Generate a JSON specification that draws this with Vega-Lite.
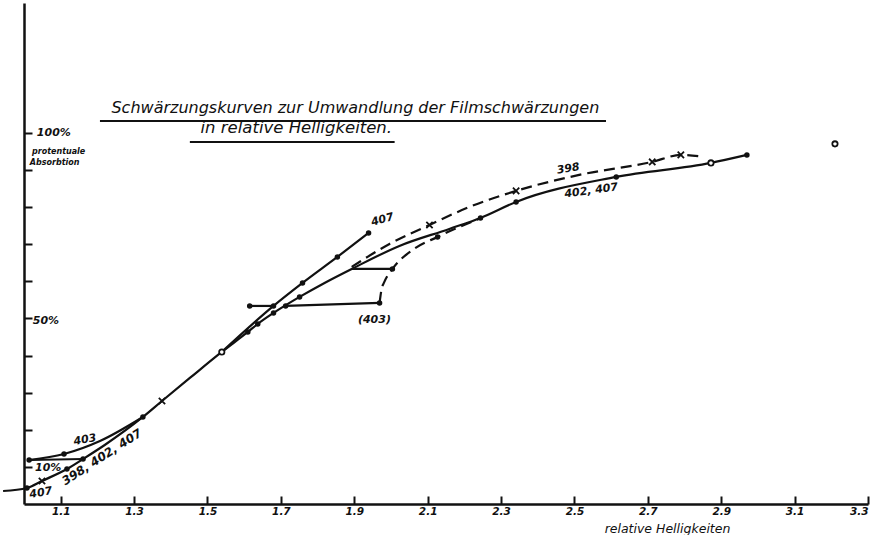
{
  "$schema": "https://vega.github.io/schema/vega-lite/v6.json",
  "width": 844,
  "height": 501,
  "autosize": "none",
  "padding": {"left": 24, "top": 3, "right": 19, "bottom": 31},
  "background": "white",
  "config": {"view": {"stroke": null}, "font": "DejaVu Sans"},
  "datasets": {
    "lines": [
      {"s": "398/402/407", "x": 0.943, "y": 3.5},
      {"s": "398/402/407", "x": 1.008, "y": 4.31},
      {"s": "398/402/407", "x": 1.049, "y": 6.2},
      {"s": "398/402/407", "x": 1.117, "y": 9.43},
      {"s": "398/402/407", "x": 1.161, "y": 12.13},
      {"s": "398/402/407", "x": 1.22, "y": 15.9},
      {"s": "398/402/407", "x": 1.324, "y": 23.45},
      {"s": "398/402/407", "x": 1.376, "y": 27.76},
      {"s": "398/402/407", "x": 1.452, "y": 33.96},
      {"s": "398/402/407", "x": 1.539, "y": 40.97},
      {"s": "398/402/407", "x": 1.61, "y": 46.36},
      {"s": "398/402/407", "x": 1.637, "y": 48.52},
      {"s": "398/402/407", "x": 1.68, "y": 51.48},
      {"s": "398/402/407", "x": 1.751, "y": 55.8},
      {"s": "398/402/407", "x": 1.819, "y": 59.57},
      {"s": "398/402/407", "x": 1.893, "y": 63.34},
      {"s": "398/402/407", "x": 2.023, "y": 69.54},
      {"s": "398/402/407", "x": 2.159, "y": 74.12},
      {"s": "398/402/407", "x": 2.244, "y": 77.09},
      {"s": "398/402/407", "x": 2.341, "y": 81.4},
      {"s": "398/402/407", "x": 2.614, "y": 88.14},
      {"s": "398/402/407", "x": 2.872, "y": 91.91},
      {"s": "398/402/407", "x": 2.97, "y": 94.07},
      {"s": "407", "x": 1.539, "y": 40.97},
      {"s": "407", "x": 1.68, "y": 53.37},
      {"s": "407", "x": 1.759, "y": 59.57},
      {"s": "407", "x": 1.854, "y": 66.58},
      {"s": "407", "x": 1.939, "y": 73.05},
      {"s": "403", "x": 1.014, "y": 11.86},
      {"s": "403", "x": 1.109, "y": 13.48},
      {"s": "403", "x": 1.207, "y": 16.98},
      {"s": "403", "x": 1.324, "y": 23.45},
      {"s": "403 h1", "x": 1.014, "y": 11.86},
      {"s": "403 h1", "x": 1.161, "y": 12.13},
      {"s": "407 h", "x": 1.615, "y": 53.37},
      {"s": "407 h", "x": 1.68, "y": 53.37},
      {"s": "403 h2", "x": 1.713, "y": 53.37},
      {"s": "403 h2", "x": 1.969, "y": 54.18},
      {"s": "403 h3", "x": 1.893, "y": 63.34},
      {"s": "403 h3", "x": 2.004, "y": 63.34},
      {"s": "403 d", "x": 1.969, "y": 54.18},
      {"s": "403 d", "x": 1.974, "y": 57.68},
      {"s": "403 d", "x": 1.982, "y": 59.84},
      {"s": "403 d", "x": 2.004, "y": 63.34},
      {"s": "403 d", "x": 2.059, "y": 68.46},
      {"s": "403 d", "x": 2.127, "y": 71.97},
      {"s": "403 d", "x": 2.246, "y": 77.09},
      {"s": "398", "x": 1.893, "y": 63.88},
      {"s": "398", "x": 1.996, "y": 70.08},
      {"s": "398", "x": 2.105, "y": 75.2},
      {"s": "398", "x": 2.214, "y": 80.05},
      {"s": "398", "x": 2.341, "y": 84.37},
      {"s": "398", "x": 2.513, "y": 88.68},
      {"s": "398", "x": 2.712, "y": 92.18},
      {"s": "398", "x": 2.79, "y": 94.07},
      {"s": "398", "x": 2.853, "y": 93.53}
    ],
    "points": [
      {"k": "dot", "x": 1.008, "y": 4.31},
      {"k": "dot", "x": 1.117, "y": 9.43},
      {"k": "dot", "x": 1.161, "y": 12.13},
      {"k": "dot", "x": 1.014, "y": 11.86},
      {"k": "dot", "x": 1.109, "y": 13.48},
      {"k": "dot", "x": 1.324, "y": 23.45},
      {"k": "dot", "x": 1.61, "y": 46.36},
      {"k": "dot", "x": 1.637, "y": 48.52},
      {"k": "dot", "x": 1.68, "y": 51.48},
      {"k": "dot", "x": 1.751, "y": 55.8},
      {"k": "dot", "x": 1.615, "y": 53.37},
      {"k": "dot", "x": 1.68, "y": 53.37},
      {"k": "dot", "x": 1.713, "y": 53.37},
      {"k": "dot", "x": 1.759, "y": 59.57},
      {"k": "dot", "x": 1.854, "y": 66.58},
      {"k": "dot", "x": 1.939, "y": 73.05},
      {"k": "dot", "x": 1.969, "y": 54.18},
      {"k": "dot", "x": 2.004, "y": 63.34},
      {"k": "dot", "x": 2.127, "y": 71.97},
      {"k": "dot", "x": 2.244, "y": 77.09},
      {"k": "dot", "x": 2.341, "y": 81.4},
      {"k": "dot", "x": 2.614, "y": 88.14},
      {"k": "dot", "x": 2.97, "y": 94.07},
      {"k": "cross", "x": 1.049, "y": 6.2},
      {"k": "cross", "x": 1.376, "y": 27.76},
      {"k": "cross", "x": 2.105, "y": 75.2},
      {"k": "cross", "x": 2.341, "y": 84.37},
      {"k": "cross", "x": 2.712, "y": 92.18},
      {"k": "cross", "x": 2.79, "y": 94.07},
      {"k": "ring", "x": 1.539, "y": 40.97},
      {"k": "ring", "x": 2.872, "y": 91.91},
      {"k": "ring", "x": 3.21, "y": 97.04}
    ],
    "labels": [
      {"t": "100%", "x": 1.035, "y": 100, "g": "axis"},
      {"t": "50%", "x": 1.024, "y": 49.3, "g": "axis"},
      {"t": "10%", "x": 1.03, "y": 9.6, "g": "axis"},
      {"t": "protentuale", "x": 1.022, "y": 94.88, "g": "small"},
      {"t": "Absorbtion", "x": 1.016, "y": 91.91, "g": "small"},
      {"t": "(403)", "x": 1.955, "y": 49.6, "g": "flat"},
      {"t": "403", "x": 1.166, "y": 17.25, "g": "r10"},
      {"t": "407", "x": 1.977, "y": 76.55, "g": "r15"},
      {"t": "407", "x": 1.046, "y": 2.96, "g": "r10"},
      {"t": "398", "x": 2.483, "y": 90.3, "g": "r10"},
      {"t": "402, 407", "x": 2.546, "y": 84.37, "g": "r8"},
      {"t": "398, 402, 407", "x": 1.212, "y": 12.67, "g": "r33"},
      {"t": "Schwärzungskurven zur Umwandlung der Filmschwärzungen", "x": 1.903, "y": 106.74, "g": "title"},
      {"t": "in relative Helligkeiten.", "x": 1.742, "y": 101.35, "g": "title2"}
    ],
    "underlines": [
      {"x": 1.207, "x2": 2.586, "y": 103.23},
      {"x": 1.452, "x2": 2.01, "y": 97.57}
    ]
  },
  "layer": [
    {
      "data": {"name": "lines"},
      "transform": [{"filter": "datum.s !== '398' && datum.s !== '403 d'"}],
      "mark": {"type": "line", "color": "#111", "strokeWidth": 2.2, "interpolate": "monotone", "clip": false},
      "encoding": {
        "x": {"field": "x", "type": "quantitative",
          "scale": {"domain": [1.0, 3.3], "nice": false, "zero": false},
          "axis": {"values": [1.1, 1.3, 1.5, 1.7, 1.9, 2.1, 2.3, 2.5, 2.7, 2.9, 3.1, 3.3], "format": ".1f",
            "grid": false, "tickSize": -8, "tickWidth": 2, "tickColor": "#111", "domainWidth": 2.5, "domainColor": "#111",
            "labelFont": "DejaVu Sans", "labelFontStyle": "italic", "labelFontWeight": "bold", "labelFontSize": 10.5, "labelColor": "#111",
            "labelPadding": 10, "title": "relative Helligkeiten", "titleFont": "DejaVu Sans", "titleFontStyle": "italic",
            "titleFontWeight": "normal", "titleFontSize": 12.5, "titleColor": "#111", "titleX": 643, "titleY": 24, "titleBaseline": "middle"}},
        "y": {"field": "y", "type": "quantitative",
          "scale": {"domain": [0, 135], "nice": false, "zero": false},
          "axis": {"values": [10, 20, 30, 40, 50, 60, 70, 80, 90, 100], "grid": false, "labels": false, "title": null,
            "tickSize": -8, "tickWidth": 2, "tickColor": "#111", "domainWidth": 2.5, "domainColor": "#111"}},
        "detail": {"field": "s"}
      }
    },
    {
      "data": {"name": "lines"},
      "transform": [{"filter": "datum.s === '398' || datum.s === '403 d'"}],
      "mark": {"type": "line", "color": "#111", "strokeWidth": 2.2, "strokeDash": [11, 6], "interpolate": "monotone", "clip": false},
      "encoding": {
        "x": {"field": "x", "type": "quantitative"},
        "y": {"field": "y", "type": "quantitative"},
        "detail": {"field": "s"}
      }
    },
    {
      "data": {"name": "points"},
      "transform": [{"filter": "datum.k === 'dot'"}],
      "mark": {"type": "point", "shape": "circle", "filled": true, "size": 30, "color": "#111", "opacity": 1},
      "encoding": {"x": {"field": "x", "type": "quantitative"}, "y": {"field": "y", "type": "quantitative"}}
    },
    {
      "data": {"name": "points"},
      "transform": [{"filter": "datum.k === 'ring'"}],
      "mark": {"type": "point", "shape": "circle", "filled": true, "size": 28, "fill": "white", "stroke": "#111", "strokeWidth": 1.8, "opacity": 1},
      "encoding": {"x": {"field": "x", "type": "quantitative"}, "y": {"field": "y", "type": "quantitative"}}
    },
    {
      "data": {"name": "points"},
      "transform": [{"filter": "datum.k === 'cross'"}],
      "mark": {"type": "point", "shape": "M-1,-1L1,1M-1,1L1,-1", "filled": false, "size": 40, "stroke": "#111", "strokeWidth": 1.8, "opacity": 1},
      "encoding": {"x": {"field": "x", "type": "quantitative"}, "y": {"field": "y", "type": "quantitative"}}
    },
    {
      "data": {"name": "underlines"},
      "mark": {"type": "rule", "color": "#111", "strokeWidth": 2},
      "encoding": {"x": {"field": "x", "type": "quantitative"}, "x2": {"field": "x2"}, "y": {"field": "y", "type": "quantitative"}}
    },
    {
      "data": {"name": "labels"},
      "transform": [{"filter": "datum.g === 'title'"}],
      "mark": {"type": "text", "font": "DejaVu Sans", "fontStyle": "italic", "fontSize": 16, "color": "#111", "align": "center", "baseline": "middle"},
      "encoding": {"x": {"field": "x", "type": "quantitative"}, "y": {"field": "y", "type": "quantitative"}, "text": {"field": "t"}}
    },
    {
      "data": {"name": "labels"},
      "transform": [{"filter": "datum.g === 'title2'"}],
      "mark": {"type": "text", "font": "DejaVu Sans", "fontStyle": "italic", "fontSize": 16.5, "color": "#111", "align": "center", "baseline": "middle"},
      "encoding": {"x": {"field": "x", "type": "quantitative"}, "y": {"field": "y", "type": "quantitative"}, "text": {"field": "t"}}
    },
    {
      "data": {"name": "labels"},
      "transform": [{"filter": "datum.g === 'axis'"}],
      "mark": {"type": "text", "font": "DejaVu Sans", "fontStyle": "italic", "fontWeight": "bold", "fontSize": 11, "color": "#111", "align": "left", "baseline": "middle"},
      "encoding": {"x": {"field": "x", "type": "quantitative"}, "y": {"field": "y", "type": "quantitative"}, "text": {"field": "t"}}
    },
    {
      "data": {"name": "labels"},
      "transform": [{"filter": "datum.g === 'small'"}],
      "mark": {"type": "text", "font": "DejaVu Sans", "fontStyle": "italic", "fontWeight": "bold", "fontSize": 8, "color": "#111", "align": "left", "baseline": "middle"},
      "encoding": {"x": {"field": "x", "type": "quantitative"}, "y": {"field": "y", "type": "quantitative"}, "text": {"field": "t"}}
    },
    {
      "data": {"name": "labels"},
      "transform": [{"filter": "datum.g === 'flat'"}],
      "mark": {"type": "text", "font": "DejaVu Sans", "fontStyle": "italic", "fontWeight": "bold", "fontSize": 11, "color": "#111", "align": "center", "baseline": "middle"},
      "encoding": {"x": {"field": "x", "type": "quantitative"}, "y": {"field": "y", "type": "quantitative"}, "text": {"field": "t"}}
    },
    {
      "data": {"name": "labels"},
      "transform": [{"filter": "datum.g === 'r10'"}],
      "mark": {"type": "text", "font": "DejaVu Sans", "fontStyle": "italic", "fontWeight": "bold", "fontSize": 11, "color": "#111", "align": "center", "baseline": "middle", "angle": -10},
      "encoding": {"x": {"field": "x", "type": "quantitative"}, "y": {"field": "y", "type": "quantitative"}, "text": {"field": "t"}}
    },
    {
      "data": {"name": "labels"},
      "transform": [{"filter": "datum.g === 'r8'"}],
      "mark": {"type": "text", "font": "DejaVu Sans", "fontStyle": "italic", "fontWeight": "bold", "fontSize": 11, "color": "#111", "align": "center", "baseline": "middle", "angle": -8},
      "encoding": {"x": {"field": "x", "type": "quantitative"}, "y": {"field": "y", "type": "quantitative"}, "text": {"field": "t"}}
    },
    {
      "data": {"name": "labels"},
      "transform": [{"filter": "datum.g === 'r15'"}],
      "mark": {"type": "text", "font": "DejaVu Sans", "fontStyle": "italic", "fontWeight": "bold", "fontSize": 11, "color": "#111", "align": "center", "baseline": "middle", "angle": -15},
      "encoding": {"x": {"field": "x", "type": "quantitative"}, "y": {"field": "y", "type": "quantitative"}, "text": {"field": "t"}}
    },
    {
      "data": {"name": "labels"},
      "transform": [{"filter": "datum.g === 'r33'"}],
      "mark": {"type": "text", "font": "DejaVu Sans", "fontStyle": "italic", "fontWeight": "bold", "fontSize": 12, "color": "#111", "align": "center", "baseline": "middle", "angle": -33},
      "encoding": {"x": {"field": "x", "type": "quantitative"}, "y": {"field": "y", "type": "quantitative"}, "text": {"field": "t"}}
    }
  ]
}
